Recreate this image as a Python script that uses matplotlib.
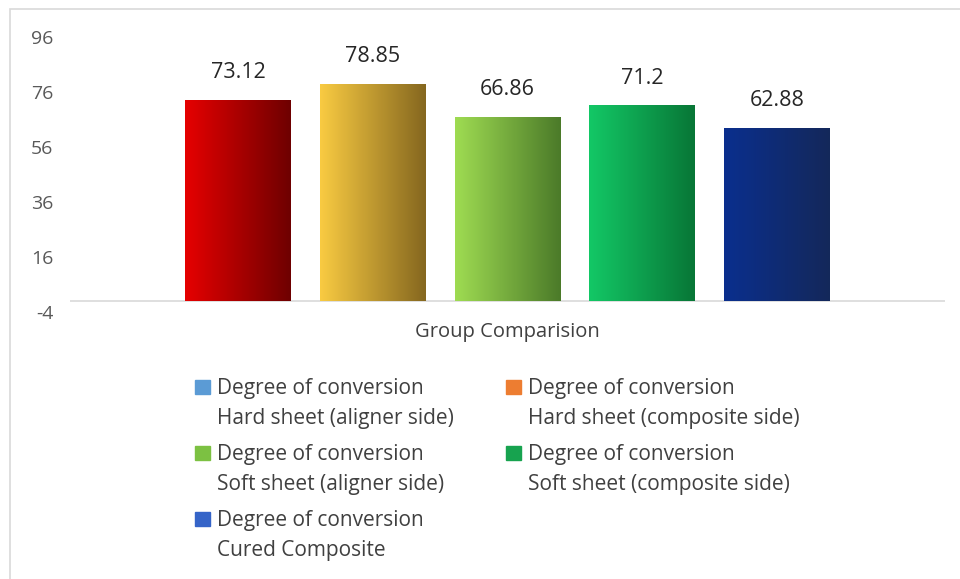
import matplotlib.pyplot as plt
import numpy as np
from matplotlib.colors import LinearSegmentedColormap
from matplotlib.patches import Rectangle

plt.rcParams['font.family'] = ['Open Sans', 'DejaVu Sans']
plt.rcParams['axes.unicode_minus'] = False

# data
category = "Group Comparision"
series = ["Degree of conversion\nHard sheet (aligner side)",
          "Degree of conversion\nHard sheet (composite side)",
          "Degree of conversion\nSoft sheet (aligner side)",
          "Degree of conversion\nSoft sheet (composite side)",
          "Degree of conversion\nCured Composite"]
values = [73.12, 78.85, 66.86, 71.2, 62.88]
value_labels = ["73.12", "78.85", "66.86", "71.2", "62.88"]
yticks = [-4, 16, 36, 56, 76, 96]

# bar gradients (left, right) and legend swatch colours
grad = [("#e60000", "#6e0000"),
        ("#f9cb42", "#85671f"),
        ("#9fdc52", "#4b7a29"),
        ("#13c866", "#087636"),
        ("#0a2f8e", "#14285a")]
legend_colors = ["#5b9bd5", "#ed7d31", "#7cc142", "#17a34f", "#3564c8"]

W, H = 960, 579
fig = plt.figure(figsize=(W / 100, H / 100), dpi=100)

# light frame around chart area
fig.patches.append(Rectangle((10 / W, -0.1), 1.0, 1 - 9 / H + 0.1,
                             transform=fig.transFigure, fill=False,
                             edgecolor="#d9d9d9", linewidth=1.2))

ax = fig.add_axes([70 / W, (H - 312) / H, 875 / W, 275 / H])

n = len(values)
step = 0.154
width = 0.121
x = (np.arange(n) - (n - 1) / 2) * step
bars = ax.bar(x, values, width, color="none", zorder=2)

for b, (c0, c1) in zip(bars, grad):
    cmap = LinearSegmentedColormap.from_list("g", [c0, c1])
    x0, y0 = b.get_x(), b.get_y()
    im = ax.imshow(np.linspace(0, 1, 256).reshape(1, -1), cmap=cmap,
                   extent=[x0, x0 + b.get_width(), y0, y0 + b.get_height()],
                   aspect="auto", zorder=2)
    im.set_clip_path(b)

for xi, v, lab in zip(x, values, value_labels):
    ax.annotate(lab, (xi, v), xytext=(0, 12), textcoords="offset points",
                ha="center", va="bottom", fontsize=15.5, color="#262626")

ax.axhline(0, color="#d9d9d9", linewidth=1.2, zorder=1)
ax.set_xlim(-0.5, 0.5)
ax.set_ylim(-4, 96)
ax.set_yticks(yticks)
ax.set_xticks([0])
ax.set_xticklabels([category])
ax.tick_params(axis="y", length=0, pad=12, labelsize=14, labelcolor="#595959")
ax.tick_params(axis="x", length=0, pad=7, labelsize=14.5, labelcolor="#404040")
for s in ax.spines.values():
    s.set_visible(False)

# legend laid out by rows, two columns
col_x = [195, 506]
row_y = [387, 453, 519]
for i, (lab, c) in enumerate(zip(series, legend_colors)):
    px = col_x[i % 2]
    py = row_y[i // 2]
    fig.patches.append(Rectangle((px / W, 1 - (py + 7) / H), 15 / W, 14 / H,
                                 transform=fig.transFigure, color=c))
    fig.text((px + 22) / W, 1 - (py - 9) / H, lab, ha="left", va="top",
             fontsize=15, color="#404040", linespacing=1.56)

fig.savefig("out.png", dpi=100)
